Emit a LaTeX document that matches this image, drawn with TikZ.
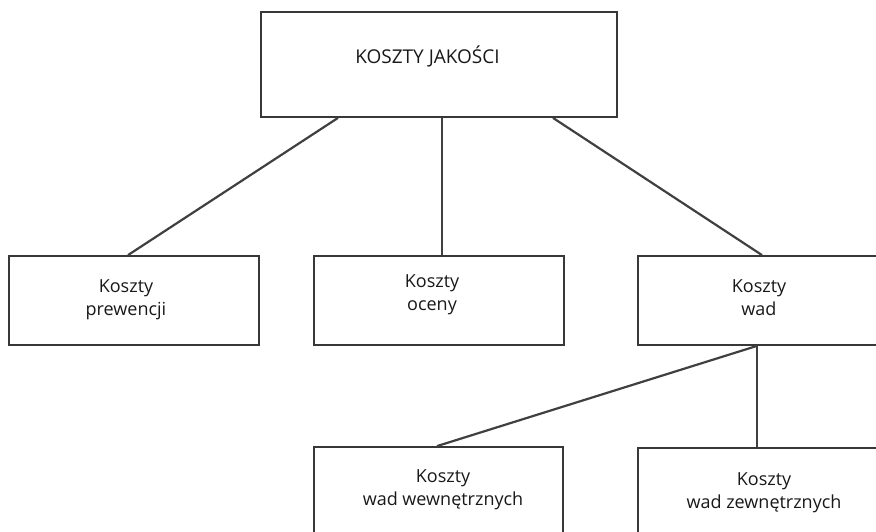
\documentclass[tikz,border=0pt]{standalone}
\usepackage{fontspec}
\setmainfont{Open Sans}
\begin{document}
\begin{tikzpicture}[x=1pt,y=-1pt,
  box/.style={draw=black!78,line width=1.8pt,fill=white,inner sep=0pt},
  lbl/.style={align=center,inner sep=0pt,font=\fontsize{18}{23}\selectfont,text=black!90},
  link/.style={draw=black!75,line width=2.2pt}]
\useasboundingbox (0,0) rectangle (876,532);
\clip (0,0) rectangle (876,532);
% boxes (the right and bottom ones run past the page edge)
\node[box,minimum width=356pt,minimum height=105pt] (top) at (439,64.5) {};
\node[box,minimum width=250pt,minimum height=89pt] (b1) at (134,300.5) {};
\node[box,minimum width=250pt,minimum height=89pt] (b2) at (439,300.5) {};
\node[box,minimum width=250pt,minimum height=89pt] (b3) at (763,300.5) {};
\node[box,minimum width=249pt,minimum height=100pt] (b4) at (438.5,497) {};
\node[box,minimum width=250pt,minimum height=100pt] (b5) at (763,498) {};
% labels
\node[lbl,font=\fontsize{19}{23}\selectfont] (t0) at (427.5,56) {KOSZTY JAKOŚCI};
\node[lbl] (t1) at (126,300) {Koszty\\prewencji};
\node[lbl] (t2) at (432,295) {Koszty\\oceny};
\node[lbl] (t3) at (759,298) {Koszty\\wad};
\node[lbl] (t4) at (443,490) {Koszty\\wad wewnętrznych};
\node[lbl] (t5) at (764,493) {Koszty\\wad zewnętrznych};
% connectors
\draw[link] ([xshift=-101pt]top.south) -- ([xshift=-6pt]b1.north);
\draw[link] ([xshift=3pt]top.south) -- ([xshift=3pt]b2.north);
\draw[link] ([xshift=114pt]top.south) -- ([xshift=-1pt]b3.north);
\draw[link] ([xshift=-6pt]b3.south) -- ([xshift=-1.5pt]b4.north);
\draw[link] ([xshift=-6pt]b3.south) -- ([xshift=-6pt]b5.north);
\end{tikzpicture}
\end{document}
